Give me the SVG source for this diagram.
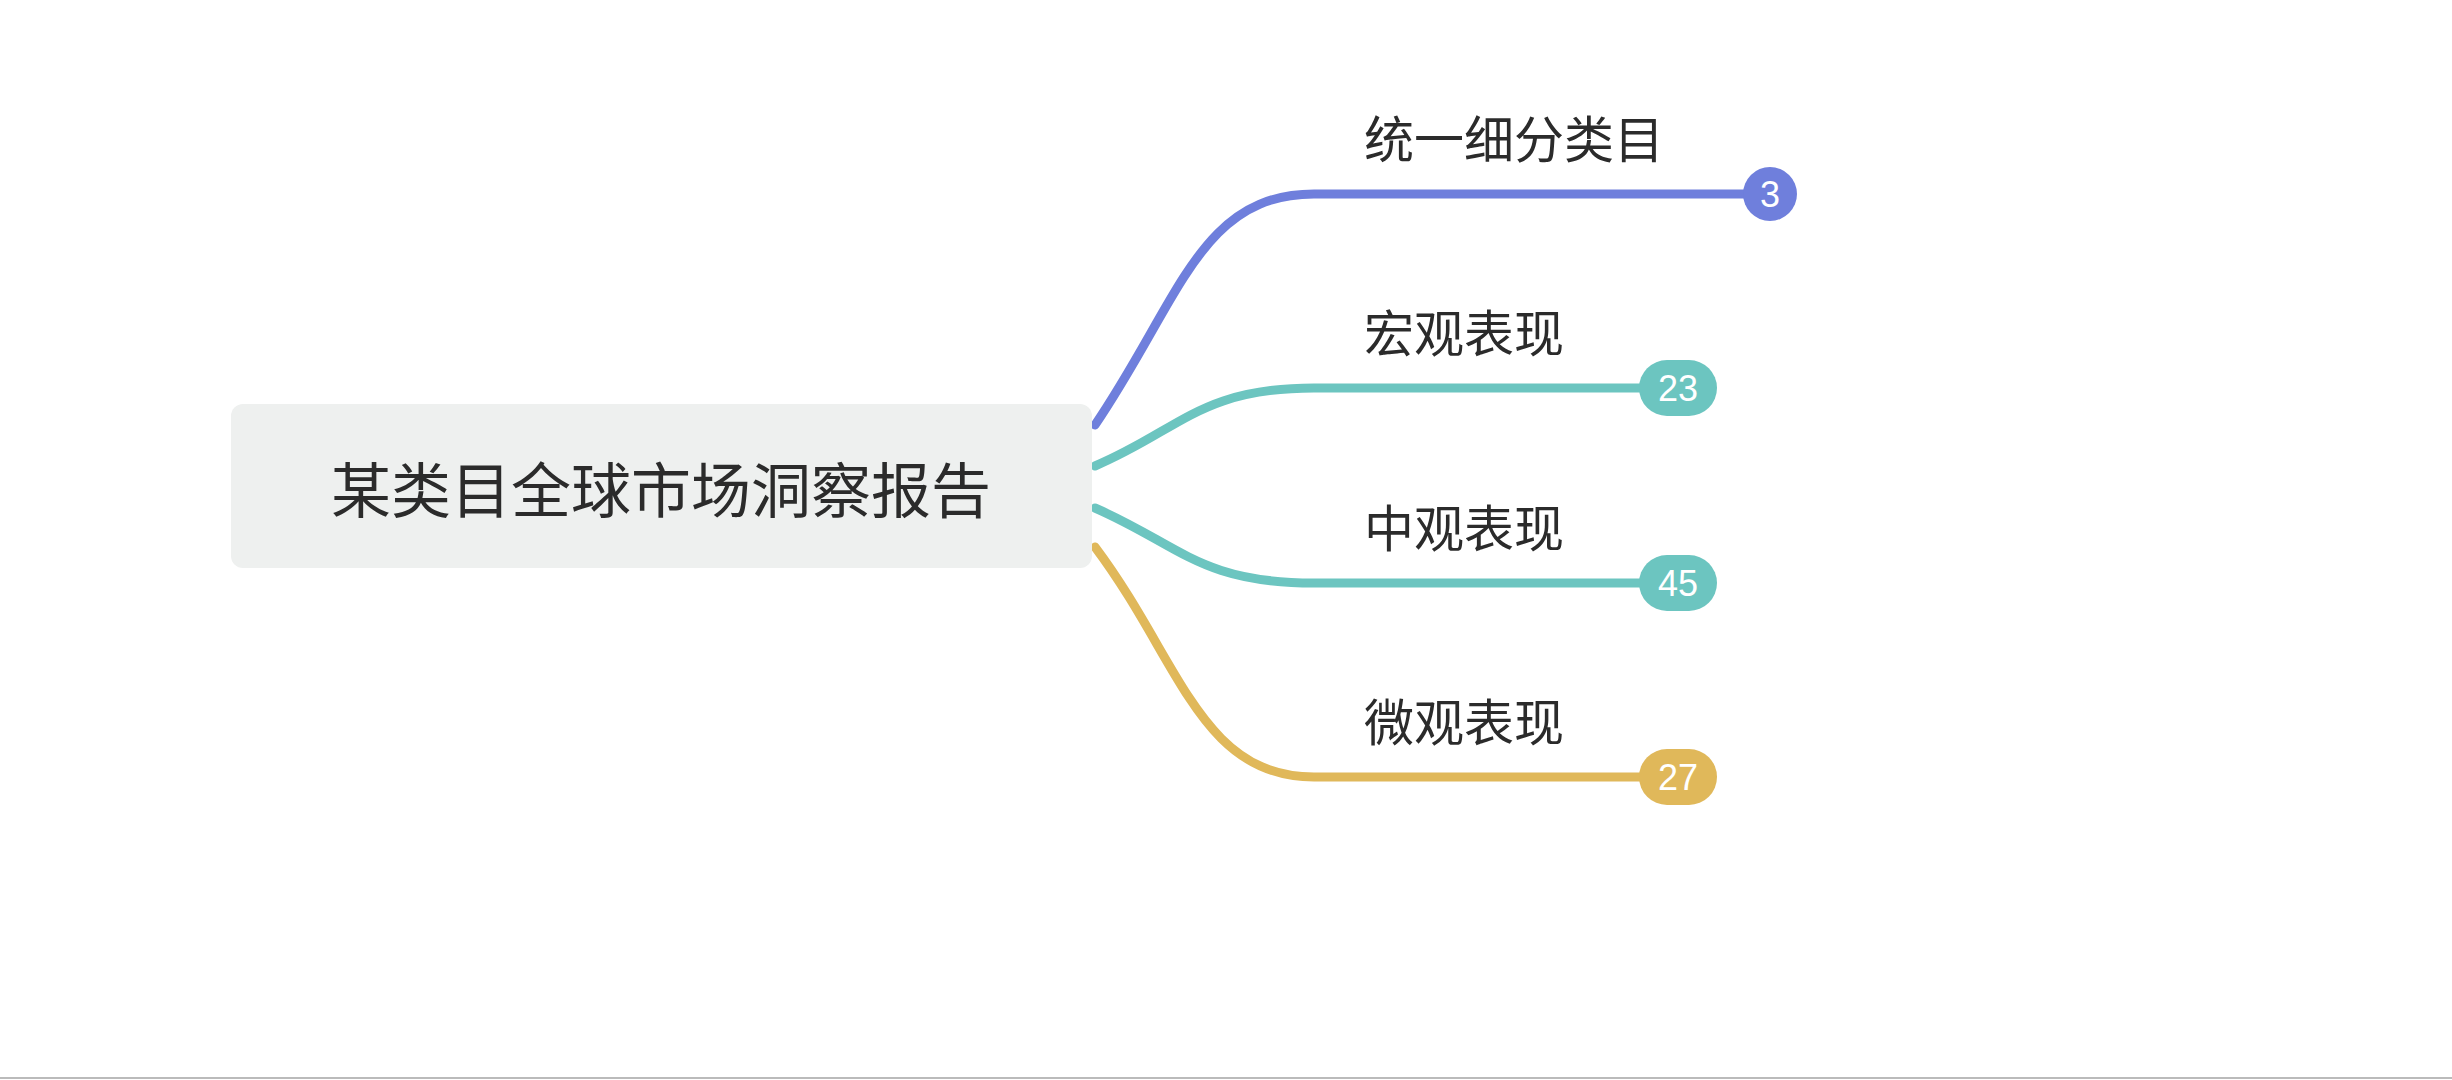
<svg xmlns="http://www.w3.org/2000/svg" width="2452" height="1080" viewBox="0 0 2452 1080">
<style>
.lbl{font-family:"Noto Sans CJK SC","Noto Sans",sans-serif;font-size:50px;fill:#2b2b2b}
.num{font-family:"Liberation Sans",Arial,sans-serif;font-size:36px;fill:#fff;text-anchor:middle;dominant-baseline:central}
.c{fill:none;stroke-width:9;stroke-linecap:round}
</style>
<rect width="2452" height="1080" fill="#fff"/>
<line x1="0" y1="1078" x2="2452" y2="1078" stroke="#bbb" stroke-width="2"/>
<g id="connectors">
<path class="c" stroke="#6f7fdc" d="M1095 425 C1180 300 1200 194 1314 194 L1767 194"/>
<path class="c" stroke="#6cc5c0" d="M1095 466 C1180 430 1200 388 1314 388 L1660 388"/>
<path class="c" stroke="#6cc5c0" d="M1095 508 C1180 545 1200 583 1314 583 L1660 583"/>
<path class="c" stroke="#e0b85a" d="M1095 547 C1180 660 1200 777 1314 777 L1660 777"/>
</g>
<g id="root">
<rect x="231" y="404" width="861" height="164" rx="12" fill="#eef0ef"/>
<text x="661" y="486" text-anchor="middle" dominant-baseline="central" style="font-family:'Noto Sans CJK SC','Noto Sans',sans-serif;font-size:60px;fill:#2b2b2b">某类目全球市场洞察报告</text>
</g>
<g id="n1">
<text class="lbl" x="1364" y="158">统一细分类目</text>
<circle cx="1770" cy="194" r="27" fill="#6f7fdc"/>
<text class="num" x="1770" y="194">3</text>
</g>
<g id="n2">
<text class="lbl" x="1364" y="352">宏观表现</text>
<rect x="1639" y="360" width="78" height="56" rx="28" fill="#6cc5c0"/>
<text class="num" x="1678" y="388">23</text>
</g>
<g id="n3">
<text class="lbl" x="1364" y="547">中观表现</text>
<rect x="1639" y="555" width="78" height="56" rx="28" fill="#6cc5c0"/>
<text class="num" x="1678" y="583">45</text>
</g>
<g id="n4">
<text class="lbl" x="1364" y="741">微观表现</text>
<rect x="1639" y="749" width="78" height="56" rx="28" fill="#e0b85a"/>
<text class="num" x="1678" y="777">27</text>
</g>
</svg>
